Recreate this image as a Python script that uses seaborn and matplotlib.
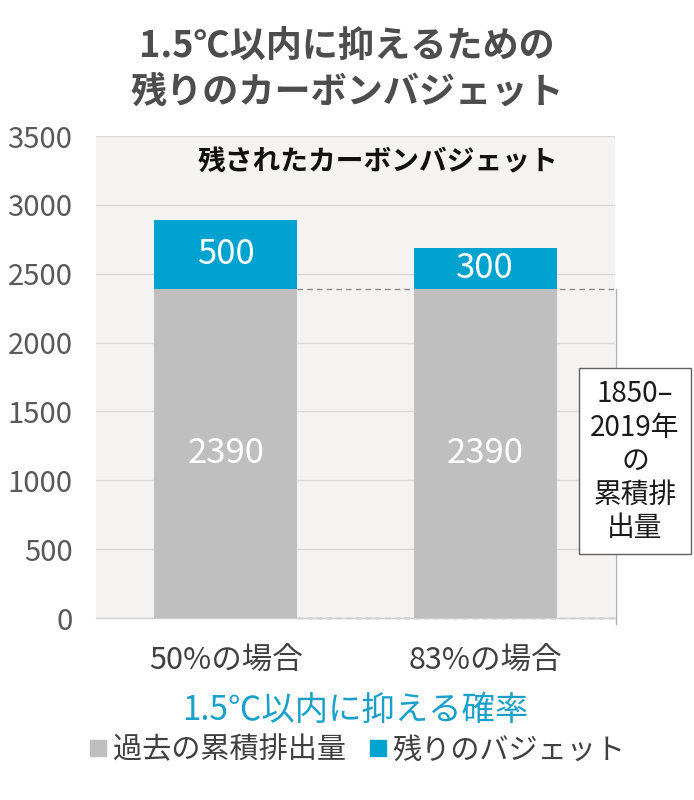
import matplotlib
matplotlib.use("Agg")
import matplotlib.pyplot as plt
import seaborn as sns
import pandas as pd
from matplotlib.lines import Line2D

sns.set_theme(style="white")
plt.rcParams['font.family'] = ['Noto Sans CJK JP', 'DejaVu Sans']
NARROW = ['Liberation Sans Narrow', 'Noto Sans CJK JP', 'DejaVu Sans']

# data
categories = ["50%の場合", "83%の場合"]
past_emissions = [2390, 2390]
remaining_budget = [500, 300]
y_ticks = [0, 500, 1000, 1500, 2000, 2500, 3000, 3500]

GRAY = "#bfbfbf"
BLUE = "#00a3cf"
TEAL = "#1ba1c9"

df = pd.DataFrame({
    "category": categories,
    "past": past_emissions,
    "total": [p + r for p, r in zip(past_emissions, remaining_budget)],
})

fig = plt.figure(figsize=(6.94, 8), dpi=100)
ax = fig.add_axes([0.1383, 0.2275, 0.748, 0.6025])
ax.set_facecolor("#f5f3f1")

sns.barplot(data=df, x="category", y="total", color=BLUE, width=0.55,
            saturation=1, linewidth=0, ax=ax, zorder=3)
sns.barplot(data=df, x="category", y="past", color=GRAY, width=0.55,
            saturation=1, linewidth=0, ax=ax, zorder=4)

ax.set_xlim(-0.5, 1.5)
ax.set_ylim(0, 3500)
ax.set_yticks(y_ticks)
ax.yaxis.grid(True, color="#d9d9d9", linewidth=1, zorder=0)
ax.set_axisbelow(True)

for s in ["left", "top", "right"]:
    ax.spines[s].set_visible(False)
ax.spines["bottom"].set_color("#d0d0d0")
ax.spines["bottom"].set_linewidth(1)

ax.tick_params(axis="y", length=0, pad=17, labelsize=21, labelcolor="#595959")
for lab in ax.get_yticklabels():
    lab.set_family(NARROW)
ax.set_xticks([-0.5, 0.5, 1.5], minor=True)
ax.tick_params(axis="x", which="minor", length=7, color="#d0d0d0", width=1, direction="out")
ax.tick_params(axis="x", which="major", length=0, pad=20, labelsize=22, labelcolor="#404040")
for lab in ax.get_xticklabels():
    lab.set_family(NARROW)

ax.set_ylabel("")
ax.set_xlabel("1.5℃以内に抑える確率", fontsize=24, color=TEAL, labelpad=12)

# segment labels
for i in range(len(categories)):
    p = past_emissions[i]
    r = remaining_budget[i]
    ax.text(i, p / 2, str(p), ha="center", va="center", color="white",
            fontsize=25, family=NARROW, zorder=5)
    ax.text(i, p + r / 2, str(r), ha="center", va="center", color="white",
            fontsize=25, family=NARROW, zorder=5)

# dashed box of cumulative emissions
x0 = 0.275
ax.plot([x0, 1.505], [past_emissions[0], past_emissions[0]], ls=(0, (4, 3)),
        color="#8c8c8c", lw=1, zorder=2, clip_on=False)
ax.plot([x0, 1.505], [0, 0], ls=(0, (4, 3)), color="#8c8c8c", lw=1,
        zorder=2, clip_on=False)
ax.plot([1.505, 1.505], [-40, past_emissions[0]], color="#b0b0b0", lw=1,
        zorder=2, clip_on=False)

ax.text(1.577, 1140, "1850–\n2019年\nの\n累積排\n出量", ha="center", va="center",
        fontsize=20, family=NARROW, color="#1a1a1a", linespacing=1.15, zorder=6,
        clip_on=False,
        bbox=dict(boxstyle="square,pad=0.4", facecolor="white",
                  edgecolor="#606060", linewidth=1))

ax.text(0.587, 3305, "残されたカーボンバジェット", ha="center", va="center",
        fontsize=20, fontweight="bold", color="#111111", zorder=6)

fig.text(0.5, 0.914, "1.5℃以内に抑えるための\n残りのカーボンバジェット", ha="center",
         va="center", fontsize=26, fontweight="bold", color="#4d4d4d",
         linespacing=1.3)

handles = [
    Line2D([0], [0], marker="s", color="none", markerfacecolor=GRAY,
           markeredgecolor=GRAY, markersize=11, label="過去の累積排出量"),
    Line2D([0], [0], marker="s", color="none", markerfacecolor=BLUE,
           markeredgecolor=BLUE, markersize=11, label="残りのバジェット"),
]
leg = fig.legend(handles=handles, loc="center", bbox_to_anchor=(0.515, 0.062),
                 ncol=2, frameon=False, fontsize=21, handlelength=0.6,
                 handletextpad=0.2, columnspacing=0.8)
for t in leg.get_texts():
    t.set_color("#404040")

fig.savefig("out.png", dpi=100)
